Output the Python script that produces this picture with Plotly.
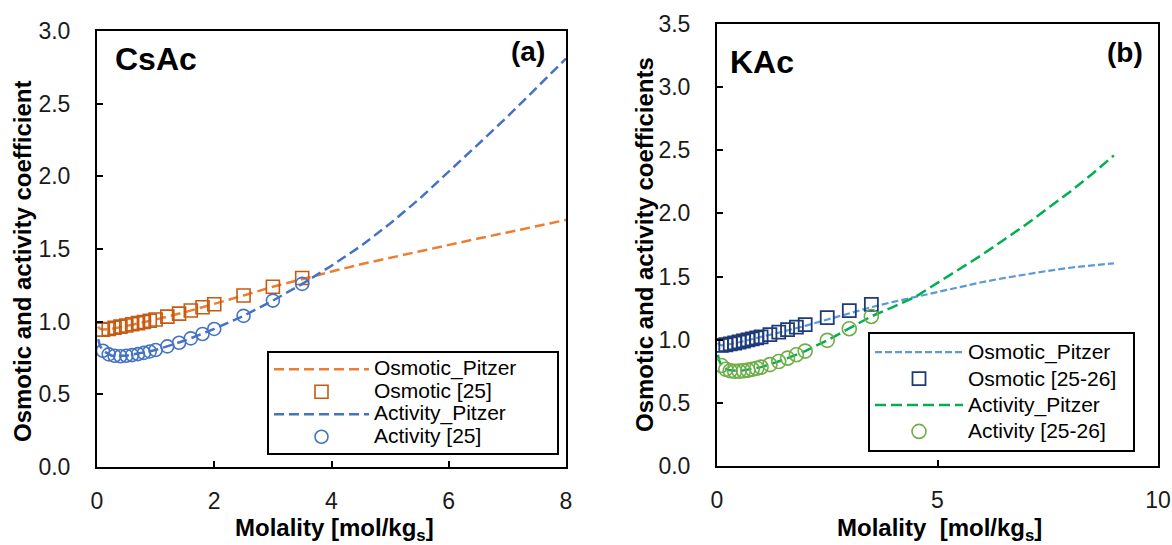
import plotly.graph_objects as go

FONT = "Liberation Sans, Arial, sans-serif"

# ---------------- (a) CsAc ----------------
m_exp_a = [0.1, 0.2, 0.3, 0.4, 0.5, 0.6, 0.7, 0.8, 0.9, 1.0, 1.2, 1.4, 1.6, 1.8, 2.0, 2.5, 3.0, 3.5]
osm_exp_a = [0.945, 0.950, 0.958, 0.966, 0.974, 0.982, 0.990, 0.998, 1.006, 1.015, 1.035, 1.055, 1.077, 1.099, 1.120, 1.180, 1.240, 1.300]
act_exp_a = [0.800, 0.775, 0.765, 0.762, 0.765, 0.770, 0.777, 0.785, 0.795, 0.805, 0.830, 0.855, 0.885, 0.915, 0.950, 1.040, 1.145, 1.260]

m_pit_a = [0.02, 0.05, 0.1, 0.25, 0.5, 0.75, 1.0, 1.5, 2.0, 2.5, 3.0, 3.5, 4.0, 4.5, 5.0, 5.5, 6.0, 6.5, 7.0, 7.5, 8.0]
osm_pit_a = [0.965, 0.952, 0.946, 0.950, 0.970, 0.992, 1.015, 1.065, 1.120, 1.180, 1.240, 1.295, 1.345, 1.395, 1.440, 1.485, 1.530, 1.572, 1.614, 1.656, 1.700]
act_pit_a = [0.880, 0.835, 0.800, 0.766, 0.765, 0.783, 0.805, 0.870, 0.950, 1.040, 1.145, 1.260, 1.385, 1.520, 1.675, 1.845, 2.030, 2.220, 2.410, 2.610, 2.810]

# ---------------- (b) KAc ----------------
m_exp_b = [0.1, 0.2, 0.3, 0.4, 0.5, 0.6, 0.7, 0.8, 0.9, 1.0, 1.2, 1.4, 1.6, 1.8, 2.0, 2.5, 3.0, 3.5]
osm_exp_b = [0.955, 0.960, 0.967, 0.974, 0.982, 0.990, 0.998, 1.006, 1.014, 1.022, 1.040, 1.060, 1.080, 1.100, 1.120, 1.175, 1.230, 1.280]
act_exp_b = [0.796, 0.766, 0.754, 0.750, 0.751, 0.754, 0.759, 0.766, 0.774, 0.783, 0.803, 0.827, 0.854, 0.881, 0.910, 0.995, 1.087, 1.184]

m_pit_b = [0.02, 0.05, 0.1, 0.25, 0.5, 1.0, 1.5, 2.0, 2.5, 3.0, 3.5, 4.0, 4.5, 5.0, 5.5, 6.0, 6.5, 7.0, 7.5, 8.0, 8.5, 9.0]
osm_pit_b = [0.975, 0.962, 0.955, 0.962, 0.980, 1.020, 1.065, 1.110, 1.160, 1.210, 1.258, 1.300, 1.340, 1.380, 1.418, 1.455, 1.488, 1.518, 1.545, 1.570, 1.590, 1.605]
act_pit_b = [0.880, 0.835, 0.796, 0.760, 0.751, 0.783, 0.840, 0.910, 0.995, 1.087, 1.185, 1.260, 1.340, 1.450, 1.560, 1.670, 1.790, 1.910, 2.040, 2.170, 2.310, 2.460]

x_ticks_a = [0, 2, 4, 6, 8]
y_ticks_a = [0.0, 0.5, 1.0, 1.5, 2.0, 2.5, 3.0]
x_ticks_b = [0, 5, 10]
y_ticks_b = [0.0, 0.5, 1.0, 1.5, 2.0, 2.5, 3.0, 3.5]

W, H = 1172, 545

def px(x):
    return x / W

def py(y):
    return 1 - y / H

def lg(name, pad=0):
    return '<span style="font-size:21px">' + name + "\u00a0" * pad + "</span>"

fig = go.Figure()

# (a)
fig.add_trace(go.Scatter(x=m_pit_a, y=osm_pit_a, mode="lines", name=lg("Osmotic_Pitzer", 6),
                         line=dict(color="#ED7D31", width=2.5, dash="10px,5px"),
                         xaxis="x", yaxis="y", legend="legend"))
fig.add_trace(go.Scatter(x=m_exp_a, y=osm_exp_a, mode="markers", name=lg("Osmotic [25]"),
                         marker=dict(symbol="square-open", size=13, color="#C55A11", line=dict(width=1.6)),
                         xaxis="x", yaxis="y", legend="legend"))
fig.add_trace(go.Scatter(x=m_pit_a, y=act_pit_a, mode="lines", name=lg("Activity_Pitzer"),
                         line=dict(color="#4472C4", width=2.5, dash="10px,5px"),
                         xaxis="x", yaxis="y", legend="legend"))
fig.add_trace(go.Scatter(x=m_exp_a, y=act_exp_a, mode="markers", name=lg("Activity [25]"),
                         marker=dict(symbol="circle-open", size=13, color="#4472C4", line=dict(width=1.6)),
                         xaxis="x", yaxis="y", legend="legend"))

# (b)
fig.add_trace(go.Scatter(x=m_pit_b, y=osm_pit_b, mode="lines", name=lg("Osmotic_Pitzer"),
                         line=dict(color="#5B9BD5", width=2.2, dash="7px,3px"),
                         xaxis="x2", yaxis="y2", legend="legend2"))
fig.add_trace(go.Scatter(x=m_exp_b, y=osm_exp_b, mode="markers", name=lg("Osmotic [25-26]", 2),
                         marker=dict(symbol="square-open", size=13, color="#1F3A78", line=dict(width=1.8)),
                         xaxis="x2", yaxis="y2", legend="legend2"))
fig.add_trace(go.Scatter(x=m_pit_b, y=act_pit_b, mode="lines", name=lg("Activity_Pitzer"),
                         line=dict(color="#00B050", width=2.5, dash="11px,5px"),
                         xaxis="x2", yaxis="y2", legend="legend2"))
fig.add_trace(go.Scatter(x=m_exp_b, y=act_exp_b, mode="markers", name=lg("Activity [25-26]", 2),
                         marker=dict(symbol="circle-open", size=14, color="#70AD47", line=dict(width=1.6)),
                         xaxis="x2", yaxis="y2", legend="legend2"))

axis_common = dict(showgrid=False, zeroline=False, showline=True, linecolor="black", linewidth=2,
                   mirror=True, ticks="inside", ticklen=6, tickwidth=2, tickcolor="black",
                   automargin=False,
                   tickfont=dict(family=FONT, size=23, color="#1a1a1a"))

fig.update_layout(
    width=W, height=H,
    margin=dict(l=0, r=0, t=0, b=0, pad=0, autoexpand=False),
    paper_bgcolor="white", plot_bgcolor="white",
    font=dict(family=FONT, color="black"),
    xaxis=dict(domain=[px(97), px(566)], range=[0, 8], tickvals=x_ticks_a, anchor="y",
               ticklabelstandoff=12, **axis_common),
    yaxis=dict(domain=[py(467), py(31)], range=[0, 3.0], tickvals=y_ticks_a, tickformat=".1f",
               anchor="x", ticklabelstandoff=20, **axis_common),
    xaxis2=dict(domain=[px(717), px(1158)], range=[0, 10], tickvals=x_ticks_b, anchor="y2",
                ticklabelstandoff=12, **axis_common),
    yaxis2=dict(domain=[py(466), py(24)], range=[0, 3.5], tickvals=y_ticks_b, tickformat=".1f",
                anchor="x2", ticklabelstandoff=20, **axis_common),
    legend=dict(x=px(267), y=py(351), xanchor="left", yanchor="top",
                bgcolor="white", bordercolor="black", borderwidth=2,
                font=dict(family=FONT, size=15, color="black"),
                itemwidth=95, tracegroupgap=0),
    legend2=dict(x=px(868), y=py(332), xanchor="left", yanchor="top",
                 bgcolor="white", bordercolor="black", borderwidth=2,
                 font=dict(family=FONT, size=18, color="black"),
                 itemwidth=88, tracegroupgap=0),
    showlegend=True,
)

ann = []
def add_text(text, x, y, size, bold=True, angle=0):
    ann.append(dict(text=f"<b>{text}</b>" if bold else text, x=px(x), y=py(y), xref="paper", yref="paper",
                    showarrow=False, textangle=angle, xanchor="center", yanchor="middle",
                    font=dict(family=FONT, size=size, color="black")))

add_text("CsAc", 156, 59, 32)
add_text("(a)", 528, 51, 28)
add_text("KAc", 762, 62, 32)
add_text("(b)", 1125, 52, 28)
add_text("Molality [mol/kg<sub>s</sub>]", 334, 529, 24)
add_text("Molality\u00a0\u00a0[mol/kg<sub>s</sub>]", 939, 529, 24)
add_text("Osmotic and activity coefficient", 22, 262, 24, angle=-90)
add_text("Osmotic and activity coefficients", 645, 245, 24, angle=-90)
fig.update_layout(annotations=ann)

fig.write_html("out.html")
